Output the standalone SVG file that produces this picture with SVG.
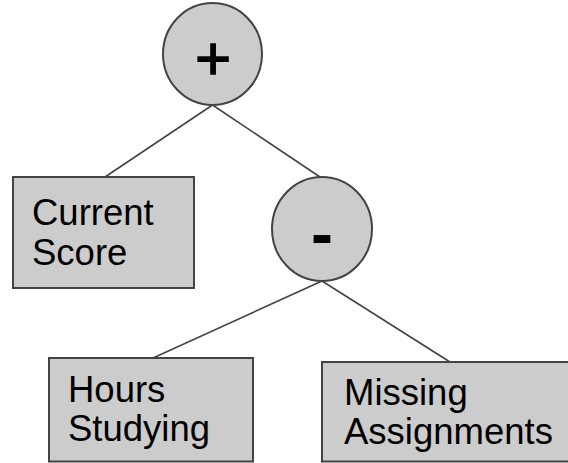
<svg xmlns="http://www.w3.org/2000/svg" width="568" height="463" viewBox="0 0 568 463">
  <style>
    .shape { fill: #cccccc; stroke: #434343; stroke-width: 2; }
    .edge { stroke: #434343; stroke-width: 1.6; fill: none; }
    .label { font-family: "Liberation Sans", Arial, sans-serif; font-size: 36.5px; fill: #000000; }
    .op { font-family: "Liberation Sans", Arial, sans-serif; fill: #000000; text-anchor: middle; }
  </style>

  <!-- connectors -->
  <g id="connectors">
    <line class="edge" x1="212.5" y1="105" x2="105" y2="177"/>
    <line class="edge" x1="212.5" y1="105" x2="320" y2="177"/>
    <line class="edge" x1="322" y1="281" x2="153" y2="358"/>
    <line class="edge" x1="322" y1="281" x2="450" y2="362"/>
  </g>

  <!-- plus operator -->
  <g id="plus">
    <ellipse class="shape" cx="212.5" cy="54" rx="49.5" ry="51"/>
    <text class="op" x="213" y="79" font-size="62" stroke="#000000" stroke-width="1.3">+</text>
  </g>

  <!-- current score -->
  <g id="current-score">
    <rect class="shape" x="13" y="177" width="181" height="111"/>
    <text class="label" x="32" y="225">Current</text>
    <text class="label" x="32" y="265">Score</text>
  </g>

  <!-- minus operator -->
  <g id="minus">
    <ellipse class="shape" cx="322" cy="229" rx="50" ry="52"/>
    <text class="op" x="322" y="256" font-size="66" font-weight="bold">-</text>
  </g>

  <!-- hours studying -->
  <g id="hours-studying">
    <rect class="shape" x="49" y="358" width="204" height="103.5"/>
    <text class="label" x="68" y="402">Hours</text>
    <text class="label" x="68" y="441">Studying</text>
  </g>

  <!-- missing assignments -->
  <g id="missing-assignments">
    <rect class="shape" x="322" y="362" width="260" height="99.5"/>
    <text class="label" x="344" y="405">Missing</text>
    <text class="label" x="344" y="444">Assignments</text>
  </g>
</svg>
